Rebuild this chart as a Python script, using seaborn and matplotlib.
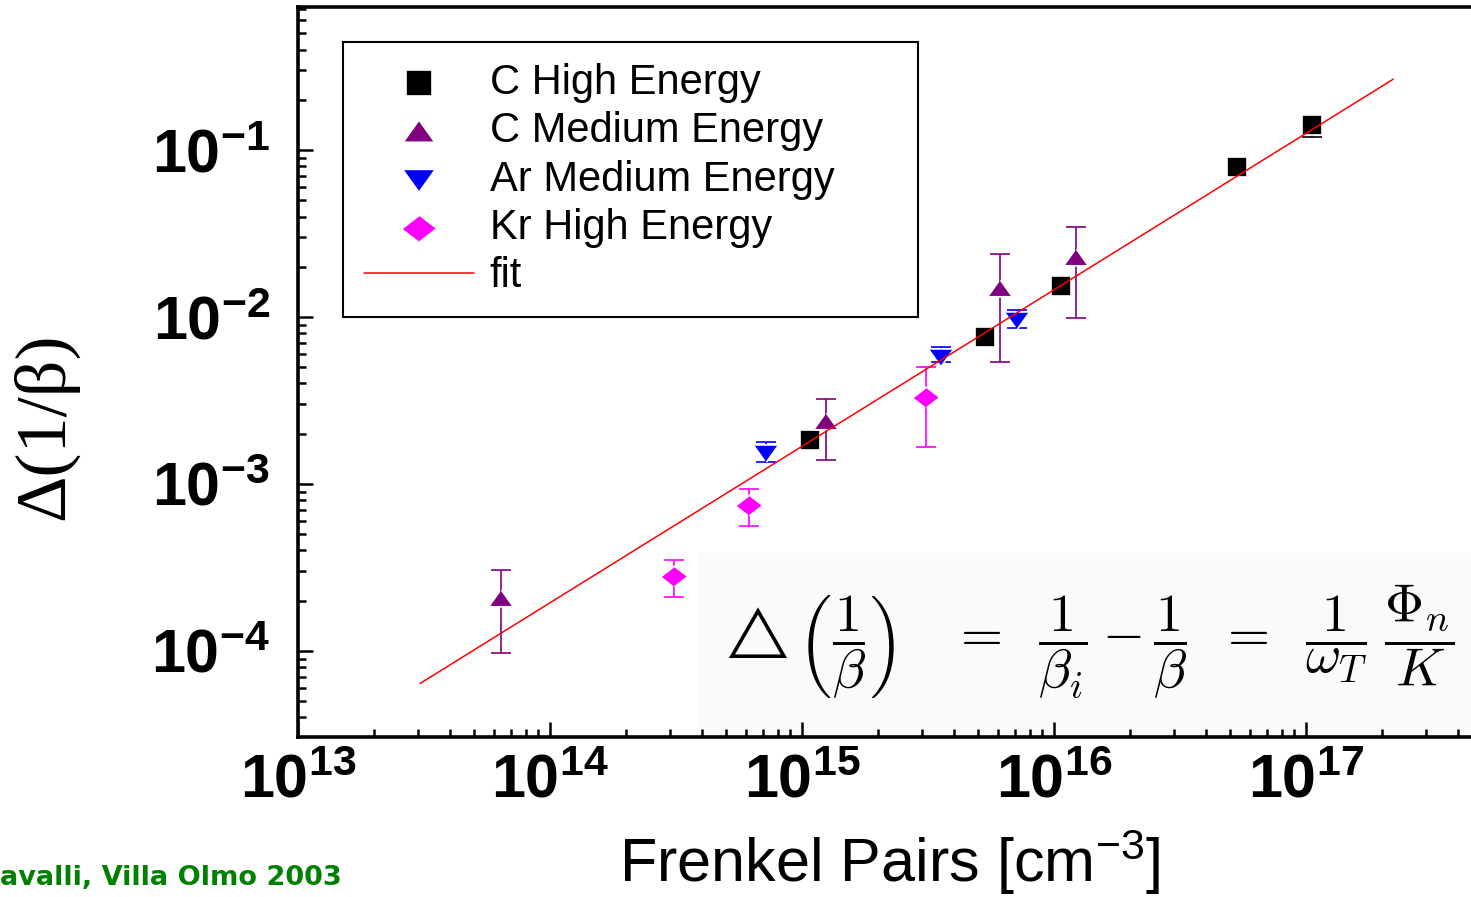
import numpy as np
import matplotlib
matplotlib.use('Agg')
import matplotlib.pyplot as plt
from matplotlib.markers import MarkerStyle
from matplotlib.patches import Rectangle
from matplotlib.ticker import LogLocator, FuncFormatter, NullFormatter
import seaborn as sns

sns.set_style('white')
plt.rcParams['font.family'] = ['Liberation Sans', 'DejaVu Sans']
plt.rcParams['mathtext.fontset'] = 'custom'
plt.rcParams['mathtext.rm'] = 'Liberation Sans'
plt.rcParams['mathtext.bf'] = 'Liberation Sans:bold'
plt.rcParams['mathtext.it'] = 'Liberation Sans:italic'
for key in ('text.color', 'axes.labelcolor', 'xtick.color', 'ytick.color'):
    plt.rcParams[key] = 'black'

# values (x: Frenkel pairs [cm^-3], y: delta(1/beta))
c_high_x = [1.08e15, 5.32e15, 1.07e16, 5.32e16, 1.06e17]
c_high_y = [1.83e-3, 7.58e-3, 1.53e-2, 7.94e-2, 0.141]
c_high_lo = [1.83e-3, 7.58e-3, 1.53e-2, 7.94e-2, 0.120]
c_high_hi = [1.83e-3, 7.58e-3, 1.53e-2, 7.94e-2, 0.1605]

c_med_x = [6.39e13, 1.245e15, 6.11e15, 1.22e16]
c_med_y = [2.07e-4, 2.39e-3, 1.49e-2, 2.29e-2]
c_med_lo = [9.77e-5, 1.39e-3, 5.37e-3, 9.84e-3]
c_med_hi = [3.05e-4, 3.22e-3, 2.38e-2, 3.46e-2]

ar_med_x = [7.18e14, 3.55e15, 7.13e15]
ar_med_y = [1.54e-3, 5.78e-3, 9.58e-3]
ar_med_lo = [1.36e-3, 5.39e-3, 8.6e-3]
ar_med_hi = [1.79e-3, 6.63e-3, 1.10e-2]

kr_high_x = [3.10e14, 6.16e14, 3.10e15]
kr_high_y = [2.80e-4, 7.46e-4, 3.33e-3]
kr_high_lo = [2.10e-4, 5.61e-4, 1.67e-3]
kr_high_hi = [3.49e-4, 9.31e-4, 5.01e-3]

fit_x = [3.05e13, 2.22e17]
fit_y = [6.38e-5, 0.266]

labels = ['C High Energy', 'C Medium Energy', 'Ar Medium Energy', 'Kr High Energy']
colors = ['black', '#800080', '#0000ff', '#ff00ff']

square = MarkerStyle('s')
tri_up = MarkerStyle([(-1, -0.7), (1, -0.7), (0, 0.7)])
tri_down = MarkerStyle([(-1, 0.7), (1, 0.7), (0, -0.7)])
diamond = MarkerStyle([(-1, 0), (0, 0.77), (1, 0), (0, -0.77)])
markers = [square, tri_up, tri_down, diamond]
sizes = [200, 290, 310, 370]

series = [
    (c_high_x, c_high_y, c_high_lo, c_high_hi),
    (c_med_x, c_med_y, c_med_lo, c_med_hi),
    (ar_med_x, ar_med_y, ar_med_lo, ar_med_hi),
    (kr_high_x, kr_high_y, kr_high_lo, kr_high_hi),
]

fig = plt.figure(figsize=(14.71, 8.97), dpi=100)
ax = fig.add_axes([0.2026, 0.1784, 0.7974, 0.8138])
ax.set_xscale('log')
ax.set_yscale('log')

# faint box behind the formula
ax.add_patch(Rectangle((0.341, 0.0), 0.66, 0.252, transform=ax.transAxes,
                       facecolor='#fafafa', edgecolor='none', zorder=0.5))

for (x, y, lo, hi), lab, col, mk, sz in zip(series, labels, colors, markers, sizes):
    x = np.array(x); y = np.array(y); lo = np.array(lo); hi = np.array(hi)
    m = hi > lo
    if m.any():
        ax.errorbar(x[m], y[m], yerr=[y[m] - lo[m], hi[m] - y[m]], fmt='none',
                    ecolor=col, elinewidth=1.2, capsize=7, capthick=1.2, zorder=2)
    sns.scatterplot(x=x, y=y, marker=mk, s=sz, color=col, edgecolor='white',
                    linewidth=1.2, label=lab, ax=ax, zorder=3)

sns.lineplot(x=fit_x, y=fit_y, color='red', linewidth=1.1, label='fit', ax=ax, zorder=4)

ax.set_xlim(1e13, 10 ** 17.655)
ax.set_ylim(3.05e-5, 0.72)

# ticks
fmt = FuncFormatter(lambda v, p: r'$\mathbf{10^{%d}}$' % round(np.log10(v)))
for axis in (ax.xaxis, ax.yaxis):
    axis.set_major_locator(LogLocator(base=10, numticks=20))
    axis.set_minor_locator(LogLocator(base=10, subs=np.arange(2, 10), numticks=20))
    axis.set_major_formatter(fmt)
    axis.set_minor_formatter(NullFormatter())
ax.tick_params(which='both', direction='in', color='black', width=1.8,
               top=False, right=False, left=True, bottom=True)
ax.tick_params(which='major', length=11, labelsize=44)
ax.tick_params(which='minor', length=6)
ax.tick_params(axis='y', which='major', pad=20)
ax.tick_params(axis='x', which='major', pad=12)

for side in ('left', 'bottom', 'top'):
    ax.spines[side].set_visible(True)
    ax.spines[side].set_color('black')
    ax.spines[side].set_linewidth(2.6)
ax.spines['right'].set_visible(False)

ax.set_xlabel(r'Frenkel Pairs [cm$^{\mathregular{-3}}$]', fontsize=44)
ax.xaxis.set_label_coords(0.504, -0.124)
ax.xaxis.label.set_va('top')
ax.set_ylabel('Δ(1/β)', fontsize=52, family=['Liberation Serif', 'DejaVu Serif'])
ax.yaxis.set_label_coords(-0.1876, 0.426)

# formula
eq = (r'$\triangle\left(\dfrac{1}{\beta}\right)\quad=\;\;\dfrac{1}{\beta_i}-\dfrac{1}{\beta}'
      r'\;\;=\;\;\dfrac{1}{\omega_T}\;\dfrac{\Phi_n}{K}$')
ax.text(0.671, 0.13, eq, transform=ax.transAxes, fontsize=39, math_fontfamily='cm',
        ha='center', va='center', zorder=5)

# legend
handles, labs = ax.get_legend_handles_labels()
order = [labs.index(l) for l in labels + ['fit']]
leg = ax.legend([handles[i] for i in order], [labs[i] for i in order],
                loc='upper left', bbox_to_anchor=(0.0384, 0.571, 0.490, 0.381),
                mode='expand', borderaxespad=0, fontsize=30, frameon=True,
                fancybox=False, framealpha=1, edgecolor='black', handlelength=2.64,
                handletextpad=0.38, labelspacing=0.2, borderpad=0.5,
                scatterpoints=1, markerscale=1.3)
leg.get_frame().set_linewidth(1.5)

fig.text(0.0, 1 - 885 / 897, 'avalli, Villa Olmo 2003', color='#008000', fontsize=19.5,
         fontweight='bold', family=['DejaVu Sans'], ha='left', va='baseline')

fig.savefig('out.png', dpi=100)
